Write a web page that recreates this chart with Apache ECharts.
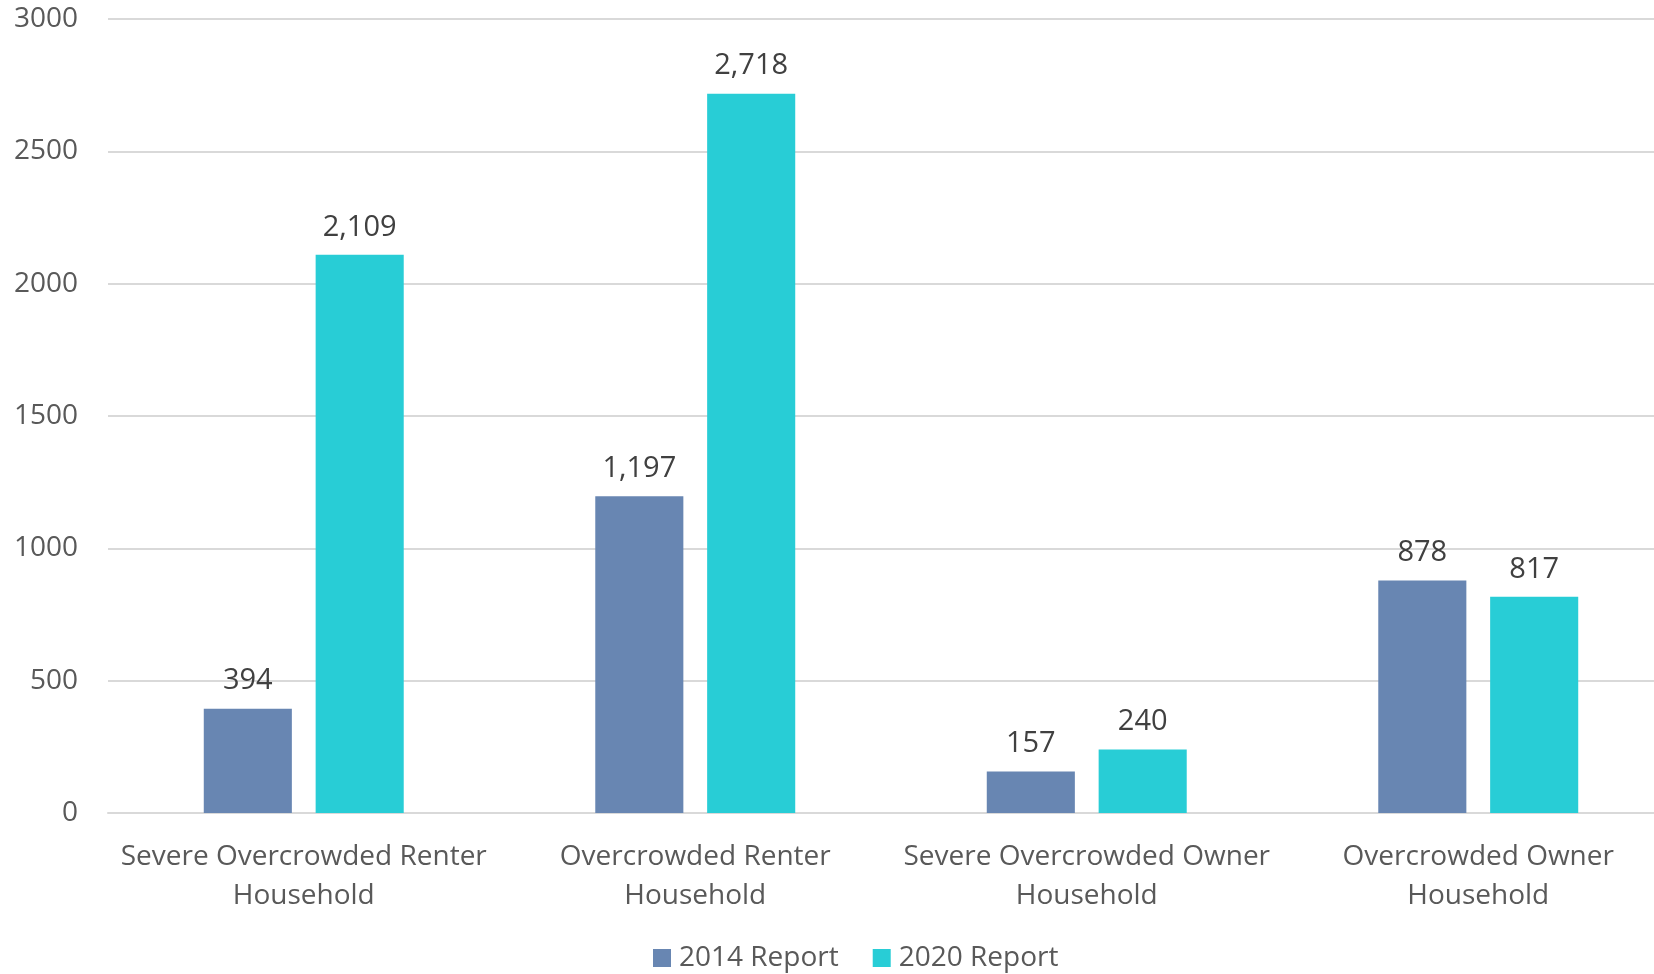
<!DOCTYPE html>
<html>
<head>
<meta charset="utf-8">
<script src="https://cdn.jsdelivr.net/npm/echarts@6/dist/echarts.min.js"></script>
<style>
html,body{margin:0;padding:0;background:#fff;overflow:hidden;}
#chart{width:1674px;height:974px;}
</style>
</head>
<body>
<div id="chart"></div>
<script>
const categories = ['Severe Overcrowded Renter Household', 'Overcrowded Renter Household', 'Severe Overcrowded Owner Household', 'Overcrowded Owner Household'];
const seriesNames = ['2014 Report', '2020 Report'];
const values2014 = [394, 1197, 157, 878];
const values2020 = [2109, 2718, 240, 817];
const yTicks = { min: 0, max: 3000, interval: 500 };

const FONT = 'Open Sans';
const chart = echarts.init(document.getElementById('chart'));
const labelFmt = p => p.value.toLocaleString('en-US');
chart.setOption({
  animation: false,
  textStyle: { fontFamily: FONT },
  grid: { left: 108, top: 19, right: 0, bottom: 161, containLabel: false },
  legend: {
    top: 939, left: 648,
    itemWidth: 18, itemHeight: 18, itemGap: 34,
    icon: 'rect',
    textStyle: { fontFamily: FONT, fontSize: 28, color: '#595959', padding: [0, 0, 0, 3] },
    data: seriesNames
  },
  xAxis: {
    type: 'category',
    data: categories,
    axisLine: { show: true, lineStyle: { color: '#d9d9d9', width: 2 } },
    axisTick: { show: false },
    axisLabel: {
      fontFamily: FONT, fontSize: 28, color: '#595959', lineHeight: 39, margin: 25,
      interval: 0,
      formatter: v => v.replace(/ Household$/, '\nHousehold')
    }
  },
  yAxis: {
    type: 'value',
    min: yTicks.min, max: yTicks.max, interval: yTicks.interval,
    axisLine: { show: false },
    axisTick: { show: false },
    splitLine: { lineStyle: { color: '#d9d9d9', width: 2 } },
    axisLabel: { fontFamily: FONT, fontSize: 28, color: '#595959', margin: 30, formatter: v => String(v) }
  },
  series: [
    {
      name: seriesNames[0], type: 'bar', data: values2014,
      barWidth: '22.5%', barGap: '27%',
      itemStyle: { color: '#6886B2' },
      label: { show: true, position: 'top', distance: 13, fontFamily: FONT, fontSize: 29, color: '#404040', formatter: labelFmt }
    },
    {
      name: seriesNames[1], type: 'bar', data: values2020,
      barWidth: '22.5%', barGap: '27%',
      itemStyle: { color: '#28CDD6' },
      label: { show: true, position: 'top', distance: 13, fontFamily: FONT, fontSize: 29, color: '#404040', formatter: labelFmt }
    }
  ]
});
</script>
</body>
</html>
